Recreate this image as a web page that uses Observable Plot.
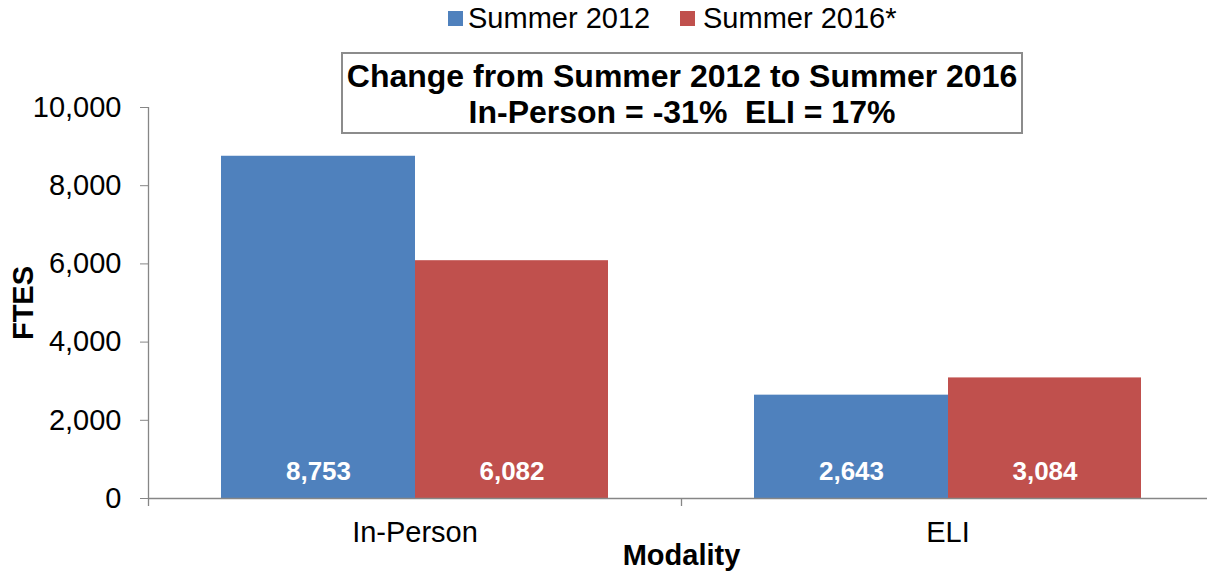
<!DOCTYPE html>
<html>
<head>
<meta charset="utf-8">
<script src="https://cdn.jsdelivr.net/npm/d3@7"></script>
<script src="https://cdn.jsdelivr.net/npm/@observablehq/plot@0.6"></script>
<style>
  html, body { margin: 0; padding: 0; background: #fff; }
  #wrap { position: relative; width: 1207px; height: 573px; font-family: "Liberation Sans", Arial, sans-serif; }
  #wrap svg { position: absolute; left: 0; top: 0; }
  .leg { position: absolute; top: 0; height: 36px; line-height: 36px; font-size: 29px; color: #000; white-space: pre; }
  .sw { position: absolute; top: 11px; width: 15px; height: 15px; }
  #box { position: absolute; left: 341px; top: 52px; width: 682px; height: 82px; box-sizing: border-box;
         border: 2px solid #8c8c8c; background: #fff; text-align: center; font-weight: bold; font-size: 32px;
         line-height: 36px; padding-top: 4px; white-space: pre; color: #000; }
</style>
</head>
<body>
<div id="wrap"></div>
<script>
const categories = ["In-Person", "ELI"];
const seriesNames = ["Summer 2012", "Summer 2016*"];
const values2012 = [8753, 2643];
const values2016 = [6082, 3084];
const seriesColors = ["#4F81BD", "#C0504D"];
const yTicks = [0, 2000, 4000, 6000, 8000, 10000];
const titleLines = ["Change from Summer 2012 to Summer 2016", "In-Person = -31%  ELI = 17%"];
const yLabel = "FTES";
const xLabel = "Modality";

const rows2012 = categories.map((c, i) => ({modality: c, series: seriesNames[0], value: values2012[i]}));
const rows2016 = categories.map((c, i) => ({modality: c, series: seriesNames[1], value: values2016[i]}));

const fmt = d3.format(",");
const axisGray = "#868686";
const font = "Liberation Sans, Arial, sans-serif";

const chart = Plot.plot({
  width: 1207,
  height: 573,
  marginTop: 107,
  marginBottom: 75,
  marginLeft: 148,
  marginRight: -7,
  style: {fontFamily: font, color: "#000", background: "transparent", overflow: "visible"},
  x: {domain: categories, paddingInner: 0, paddingOuter: 0, axis: null},
  y: {domain: [0, 10000], axis: null},
  marks: [
    Plot.barY(rows2012, {x: "modality", y: "value", fill: seriesColors[0], insetLeft: 73, insetRight: 266}),
    Plot.barY(rows2016, {x: "modality", y: "value", fill: seriesColors[1], insetLeft: 267, insetRight: 73}),
    Plot.text(rows2012, {x: "modality", y: 0, text: d => fmt(d.value), dx: -96.5, dy: -27, fill: "#fff",
      fontWeight: "bold", fontSize: 26, lineAnchor: "middle"}),
    Plot.text(rows2016, {x: "modality", y: 0, text: d => fmt(d.value), dx: 97, dy: -27, fill: "#fff",
      fontWeight: "bold", fontSize: 26, lineAnchor: "middle"}),
    // y axis line at the left edge of the first band
    Plot.ruleX([categories[0]], {x: d => d, dx: -266.5, stroke: axisGray, strokeWidth: 1.3}),
    // baseline
    Plot.ruleY([0], {stroke: axisGray, strokeWidth: 1.3}),
    // category boundary ticks
    Plot.ruleX(categories, {x: d => d, dx: -266.5, y1: 0, y2: 0, insetBottom: -8, stroke: axisGray, strokeWidth: 1.3}),
    Plot.axisY({ticks: yTicks, tickFormat: fmt, tickSize: 8, tickPadding: 19, fontSize: 29,
      stroke: axisGray, fill: "#000", label: null}),
    Plot.axisX({tickSize: 0, tickPadding: 23, fontSize: 29, fill: "#000", label: null}),
    Plot.text([yLabel], {frameAnchor: "left", dx: -125, rotate: -90, fontWeight: "bold", fontSize: 29,
      lineAnchor: "middle", textAnchor: "middle"}),
    Plot.text([xLabel], {frameAnchor: "bottom", dy: 57, fontWeight: "bold", fontSize: 29,
      lineAnchor: "middle", textAnchor: "middle"})
  ]
});

const wrap = document.getElementById("wrap");
wrap.appendChild(chart);

// legend
const legPos = [{sw: 448, tx: 468}, {sw: 680, tx: 703}];
seriesNames.forEach((name, i) => {
  const sw = document.createElement("div");
  sw.className = "sw";
  sw.style.left = legPos[i].sw + "px";
  sw.style.background = seriesColors[i];
  wrap.appendChild(sw);
  const t = document.createElement("div");
  t.className = "leg";
  t.style.left = legPos[i].tx + "px";
  t.textContent = name;
  wrap.appendChild(t);
});

// title box
const box = document.createElement("div");
box.id = "box";
box.textContent = titleLines.join("\n");
wrap.appendChild(box);
</script>
</body>
</html>
